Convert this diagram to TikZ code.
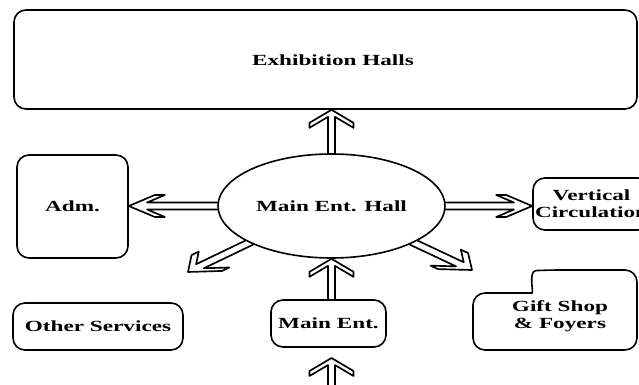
\documentclass[tikz,border=0pt]{standalone}
\usepackage{fontspec}
\usepackage{graphicx}
\setmainfont{Liberation Serif}
\usetikzlibrary{shapes.geometric}

% widened bold lettering
\newcommand\wide[1]{\scalebox{1.5}[1]{#1}}

% hollow double-shafted arrow; head drawn in a frame stretched by \arwK along x
\newcommand\arwK{2}
\newcommand\arwL{13}
\newcommand\arwH{11}
\newcommand\arwD{5}
\newcommand\arwS{3.5}
\newcommand\hollowarrow[2]{%
  \path (#1); \pgfgetlastxy{\arwXa}{\arwYa}%
  \path (#2); \pgfgetlastxy{\arwXb}{\arwYb}%
  \pgfmathsetmacro\arwDx{(\arwXb-\arwXa)/\arwK}%
  \pgfmathsetmacro\arwDy{\arwYb-\arwYa}%
  \pgfmathsetmacro\arwN{veclen(\arwDx,\arwDy)}%
  \pgfmathsetmacro\arwUx{\arwDx/\arwN}%
  \pgfmathsetmacro\arwUy{\arwDy/\arwN}%
  \pgfmathsetmacro\arwLen{\arwN/0.75}%
  \pgfmathsetmacro\arwAng{atan2(\arwDy,\arwDx)}%
  \pgfmathsetmacro\arwSu{\arwS*sqrt(\arwK*\arwK*\arwUx*\arwUx+\arwUy*\arwUy)/\arwK}%
  \pgfmathsetmacro\arwJ{-\arwD-\arwL*\arwSu/\arwH}%
  \begin{scope}[shift={(#2)}, xscale=\arwK, rotate=\arwAng]
    \draw[arrowline] (-\arwLen,\arwSu) -- (\arwJ,\arwSu) -- (-\arwL-\arwD,\arwH)
      -- (-\arwL,\arwH) -- (0,0) -- (-\arwL,-\arwH) -- (-\arwL-\arwD,-\arwH)
      -- (\arwJ,-\arwSu) -- (-\arwLen,-\arwSu);
  \end{scope}}

\tikzset{
  lbl/.style={font=\fontsize{11.6pt}{12.75pt}\selectfont\bfseries, align=center, inner sep=0pt},
  box/.style={lbl, draw, line width=1.2pt, rounded corners=9pt},
  outline/.style={draw, line width=1.2pt, rounded corners=9pt},
  arrowline/.style={draw, line width=1.25pt, line join=round, line cap=round},
}

\begin{document}
\begin{tikzpicture}[x=0.75pt, y=-0.75pt]
\useasboundingbox (0,0) rectangle (639,385);
\clip (0,0) rectangle (639,385);

% rooms
\node[box, minimum width=467.25pt, minimum height=74.25pt] (exh) at (325.5,59.5) {};
\node[lbl] (exhtext) at (333,60) {\wide{Exhibition Halls}};
\node[box, minimum width=83.25pt, minimum height=77.25pt] (adm) at (72.5,206.5) {\wide{Adm.}};
\node[lbl, draw, ellipse, line width=1.2pt, minimum width=170.25pt, minimum height=78pt]
  (hall) at (331.5,206) {\wide{Main Ent. Hall}};
\node[box, minimum width=87.75pt, minimum height=39pt] (vc) at (591.5,204)
  {\wide{Vertical}\\\wide{Circulation}};
\node[box, minimum width=127.5pt, minimum height=35.25pt] (other) at (98,326.5) {\wide{Other Services}};
\node[box, minimum width=86.25pt, minimum height=35.25pt] (mainent) at (328.5,323.5) {\wide{Main Ent.}};
\node[lbl] (gift) at (560,316) {\wide{Gift Shop}\\\wide{\& Foyers}};
\draw[outline] (473,320) -- (473,293) -- (520,293)
  .. controls (534,293) and (528,271) .. (548,270) -- (637,270) -- (637,350) -- (473,350) -- cycle;

% free ends
\coordinate (dl) at (188,272);
\coordinate (dr) at (472,270);
\coordinate (entryfoot) at (331.5,400);
\coordinate (entrytip) at (331.5,358);

% movement
\hollowarrow{hall.north}{hall.north |- exh.south}
\hollowarrow{hall.west}{adm.east |- hall.west}
\hollowarrow{hall.east}{vc.west |- hall.east}
\hollowarrow{hall.204}{dl}
\hollowarrow{hall.336}{dr}
\hollowarrow{mainent.north -| hall.south}{hall.south}
\hollowarrow{entryfoot}{entrytip}
\end{tikzpicture}
\end{document}
